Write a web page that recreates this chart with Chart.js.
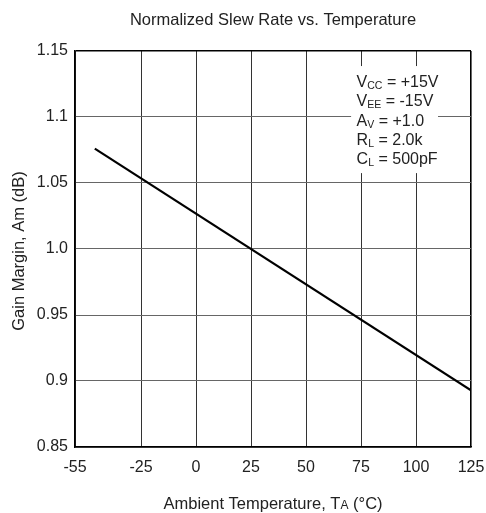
<!DOCTYPE html>
<html>
<head>
<meta charset="utf-8">
<script src="https://cdn.jsdelivr.net/npm/chart.js@4/dist/chart.umd.min.js"></script>
<style>
  html, body { margin: 0; padding: 0; background: #fff; }
</style>
</head>
<body>
<canvas id="chart" width="486" height="513"></canvas>
<script>
// data
const temps = [-46, 125];
const gainMargin = [1.076, 0.893];
const xTicks = [-55, -25, 0, 25, 50, 75, 100, 125];
const yTicks = [0.85, 0.9, 0.95, 1.0, 1.05, 1.1, 1.15];
const yTickLabels = ["0.85", "0.9", "0.95", "1.0", "1.05", "1.1", "1.15"];
// [main, subscript, rest]
const conditions = [
  ["V", "CC", " = +15V"],
  ["V", "EE", " = -15V"],
  ["A", "V", " = +1.0"],
  ["R", "L", " = 2.0k"],
  ["C", "L", " = 500pF"],
];

const FONT = "'Liberation Sans', Arial, sans-serif";
const TEXT = "#222";

// title, axis titles and the conditions box
const decorations = {
  id: "decorations",
  afterDatasetsDraw(chart) {
    const { ctx, chartArea: a, scales } = chart;
    const xs = scales.x, ys = scales.y;
    ctx.save();
    ctx.fillStyle = TEXT;

    // title
    ctx.font = "16.5px " + FONT;
    ctx.textAlign = "center";
    ctx.textBaseline = "alphabetic";
    ctx.fillText("Normalized Slew Rate vs. Temperature", (a.left + a.right) / 2, 25);

    // x title with small "A"
    const p1 = "Ambient Temperature, T", p2 = "A", p3 = " (°C)";
    ctx.font = "16.5px " + FONT;
    const w1 = ctx.measureText(p1).width, w3 = ctx.measureText(p3).width;
    ctx.font = "12px " + FONT;
    const w2 = ctx.measureText(p2).width;
    let x = (a.left + a.right) / 2 - (w1 + w2 + w3) / 2;
    const by = 509;
    ctx.textAlign = "left";
    ctx.font = "16.5px " + FONT;
    ctx.fillText(p1, x, by); x += w1;
    ctx.font = "12px " + FONT;
    ctx.fillText(p2, x, by); x += w2;
    ctx.font = "16.5px " + FONT;
    ctx.fillText(p3, x, by);

    // y title
    ctx.save();
    ctx.translate(23.5, 251);
    ctx.rotate(-Math.PI / 2);
    ctx.textAlign = "center";
    ctx.font = "16.5px " + FONT;
    ctx.fillText("Gain Margin, Am (dB)", 0, 0);
    ctx.restore();

    // conditions box (white background hides grid)
    const bx0 = xs.getPixelForValue(70.5), bx1 = xs.getPixelForValue(110);
    const by0 = ys.getPixelForValue(1.1386), by1 = ys.getPixelForValue(1.0575);
    ctx.fillStyle = "#fff";
    ctx.fillRect(bx0, by0, bx1 - bx0, by1 - by0);
    ctx.fillStyle = TEXT;
    const tx = xs.getPixelForValue(73);
    let ty = by0 + 21;
    conditions.forEach(([m, s, r]) => {
      let cx = tx;
      ctx.font = "16px " + FONT;
      ctx.fillText(m, cx, ty); cx += ctx.measureText(m).width;
      ctx.font = "10.5px " + FONT;
      ctx.fillText(s, cx, ty + 2); cx += ctx.measureText(s).width;
      ctx.font = "16px " + FONT;
      ctx.fillText(r, cx, ty);
      ty += 19.3;
    });
    ctx.restore();
  },
};

new Chart(document.getElementById("chart"), {
  type: "scatter",
  data: {
    datasets: [{
      data: temps.map((t, i) => ({ x: t, y: gainMargin[i] })),
      showLine: true,
      borderColor: "#000",
      borderWidth: 2.2,
      pointRadius: 0,
      fill: false,
    }],
  },
  options: {
    responsive: false,
    devicePixelRatio: 1,
    animation: false,
    layout: { padding: { top: 51, right: 15, bottom: 0, left: 0 } },
    plugins: { legend: { display: false }, tooltip: { enabled: false }, title: { display: false } },
    scales: {
      x: {
        type: "linear",
        min: -55,
        max: 125,
        afterBuildTicks: (s) => { s.ticks = xTicks.map((v) => ({ value: v })); },
        afterFit: (s) => { s.height = 66; s.paddingLeft = 0; s.paddingRight = 0; },
        ticks: { color: TEXT, font: { family: FONT, size: 16 }, padding: 11, maxRotation: 0, autoSkip: false },
        grid: {
          drawTicks: false,
          color: (c) => (c.tick && c.tick.value === 125 ? "#000" : "#333"),
          lineWidth: (c) => (c.tick && c.tick.value === 125 ? 1.6 : 1),
        },
        border: { color: "#000", width: 1.6 },
      },
      y: {
        min: 0.85,
        max: 1.15,
        afterBuildTicks: (s) => { s.ticks = yTicks.map((v) => ({ value: v })); },
        afterFit: (s) => { s.width = 75; s.paddingTop = 0; s.paddingBottom = 0; },
        ticks: {
          color: TEXT,
          font: { family: FONT, size: 16 },
          padding: 7,
          callback: (v, i) => yTickLabels[i],
        },
        grid: {
          drawTicks: false,
          color: (c) => (c.tick && c.tick.value === 1.15 ? "#000" : "#666"),
          lineWidth: (c) => (c.tick && c.tick.value === 1.15 ? 1.6 : 1),
        },
        border: { color: "#000", width: 1.6 },
      },
    },
  },
  plugins: [decorations],
});
</script>
</body>
</html>
